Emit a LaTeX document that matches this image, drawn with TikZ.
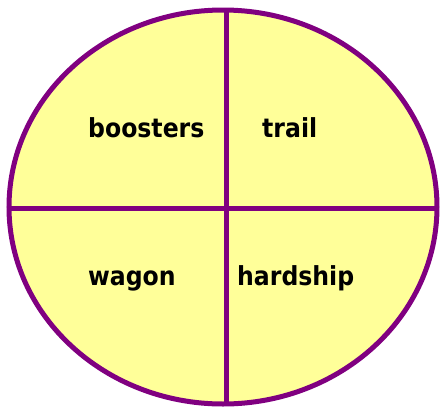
\documentclass[tikz,border=0pt]{standalone}
\usepackage{fontspec}
\usetikzlibrary{shapes.geometric}
\setmainfont{DejaVu Sans Condensed}
\definecolor{rim}{HTML}{800080}
\definecolor{pad}{HTML}{FFFF99}
\tikzset{
  rimline/.style={draw=rim, line width=5pt},
  word/.style={font=\bfseries\fontsize{26.2}{31}\selectfont, inner sep=0pt, anchor=base west}
}
\begin{document}
\begin{tikzpicture}[x=1pt,y=-1pt]
\useasboundingbox (0,0) rectangle (440,408);
\node[rimline, fill=pad, ellipse, minimum width=428pt, minimum height=394pt, inner sep=0pt] (ov) at (223,207) {};
\coordinate (top) at (226,9);
\coordinate (bot) at (226,405);
\coordinate (lft) at (10,208);
\coordinate (rgt) at (437,208);
\draw[rimline] (top) -- (bot);
\draw[rimline] (lft) -- (rgt);
\node[word] (b) at (88,137) {boosters};
\node[word] (t) at (262,137) {trail};
\node[word] (w) at (88,285) {wagon};
\node[word] (h) at (237,285) {hardship};
\end{tikzpicture}
\end{document}
